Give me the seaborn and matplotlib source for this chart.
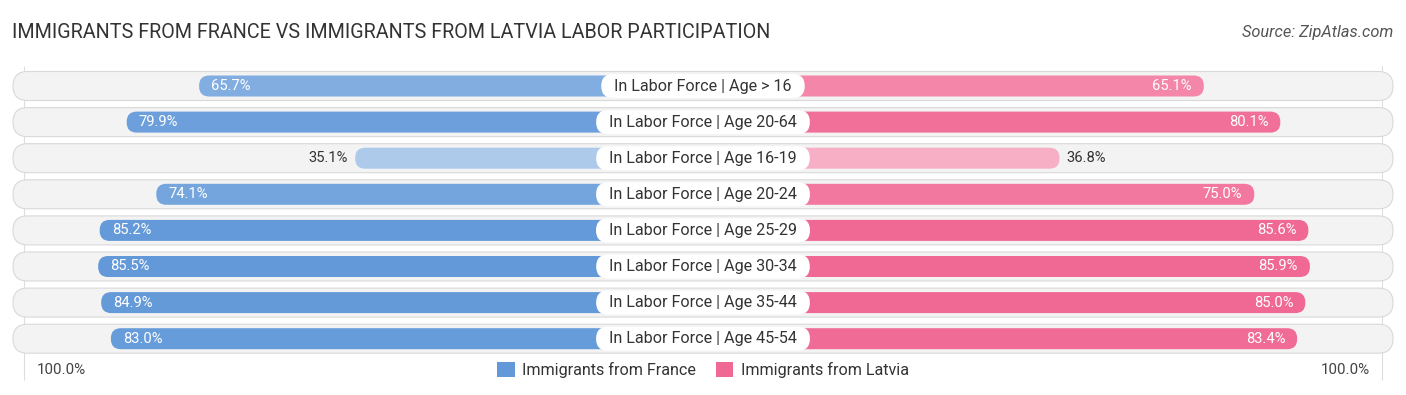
import numpy as np
import pandas as pd
import matplotlib
matplotlib.use("Agg")
import matplotlib.pyplot as plt
import seaborn as sns
from matplotlib.patches import FancyBboxPatch, Patch
from matplotlib.colors import to_rgb


# ------------------------------#
# Data
# ------------------------------#
categories = [
    "In Labor Force | Age > 16",
    "In Labor Force | Age 20-64",
    "In Labor Force | Age 16-19",
    "In Labor Force | Age 20-24",
    "In Labor Force | Age 25-29",
    "In Labor Force | Age 30-34",
    "In Labor Force | Age 35-44",
    "In Labor Force | Age 45-54",
]
france = [65.7, 79.9, 35.1, 74.1, 85.2, 85.5, 84.9, 83.0]
latvia = [65.1, 80.1, 36.8, 75.0, 85.6, 85.9, 85.0, 83.4]
series_names = ["Immigrants from France", "Immigrants from Latvia"]
axis_labels = ["100.0%", "100.0%"]
title = "IMMIGRANTS FROM FRANCE VS IMMIGRANTS FROM LATVIA LABOR PARTICIPATION"
source = "Source: ZipAtlas.com"


# ------------------------------#
# Layout (pixels)
# ------------------------------#
W, H = 1406, 395
PX = 5.1        # pixels per percent
ROW = 36.1      # pixels per row
TOP = 86        # centre of first row
OFFSET = 33.1   # part of each bar hidden under the centre label
BLUE = "#6399d9"
PINK = "#f06894"


def shade(base, v):
    # lighter colour for smaller values
    t = min(max((86 - v) / 100 * 0.95, 0), 1)
    c = np.array(to_rgb(base))
    return tuple(c + (1 - c) * t)


def py(px):
    return (px - TOP) / ROW


sns.set_theme(style="white")
plt.rcParams["font.family"] = ["Roboto", "DejaVu Sans"]

fig = plt.figure(figsize=(W / 100, H / 100), dpi=100)
ax = fig.add_axes([0, 0, 1, 1])

df = pd.DataFrame({
    "label": categories * 2,
    "value": [-(OFFSET + v) for v in france] + [OFFSET + v for v in latvia],
    "series": [series_names[0]] * len(france) + [series_names[1]] * len(latvia),
})

sns.barplot(data=df, x="value", y="label", hue="series", dodge=False,
            orient="h", ax=ax, legend=False, width=21 / ROW,
            palette=[BLUE, PINK])

ax.set_xlim(-W / 2 / PX, W / 2 / PX)
ax.set_ylim(py(H), py(0))
ax.axis("off")

# rounded bars in place of the plain rectangles
m = PX / ROW
r = 10 / PX
for p in list(ax.patches):
    x0, x1 = sorted([p.get_x(), p.get_x() + p.get_width()])
    y0, h = p.get_y(), p.get_height()
    i = int(round(y0 + h / 2))
    if x0 < 0:
        col = shade(BLUE, france[i])
    else:
        col = shade(PINK, latvia[i])
    p.remove()
    ax.add_patch(FancyBboxPatch((x0, y0), x1 - x0, h,
                                boxstyle=f"round,pad=0,rounding_size={r}",
                                mutation_aspect=m, fc=col, ec="none", zorder=2))

# row backgrounds
bh = 29 / ROW
bw = 690 / PX
for i in range(len(categories)):
    ax.add_patch(FancyBboxPatch((-bw, i - bh / 2), 2 * bw, bh,
                                boxstyle=f"round,pad=0,rounding_size={14.5 / PX}",
                                mutation_aspect=m, fc="#f3f3f3", ec="#d9d9d9",
                                lw=0.8, zorder=0))

# faint 100% guide lines
ax.vlines([-(OFFSET + 100), OFFSET + 100], py(66), py(380),
          color="#dddddd", lw=0.8, zorder=-1)

# value labels
for i, (a, b) in enumerate(zip(france, latvia)):
    if a < 50:
        ax.text(-(OFFSET + a) - 7 / PX, i, f"{a:.1f}%", ha="right", va="center",
                fontsize=10.6, color="#333333", zorder=4)
    else:
        ax.text(-(OFFSET + a) + 12 / PX, i, f"{a:.1f}%", ha="left", va="center",
                fontsize=10.6, color="white", zorder=4)
    if b < 50:
        ax.text(OFFSET + b + 7 / PX, i, f"{b:.1f}%", ha="left", va="center",
                fontsize=10.6, color="#333333", zorder=4)
    else:
        ax.text(OFFSET + b - 12 / PX, i, f"{b:.1f}%", ha="right", va="center",
                fontsize=10.6, color="white", zorder=4)

# centre labels with white pills sized from the text
renderer = fig.canvas.get_renderer()
ph = 24 / ROW
for i, cat in enumerate(categories):
    t = ax.text(0, i, cat, ha="center", va="center", fontsize=11.65,
                color="#333333", zorder=6)
    tw = t.get_window_extent(renderer).width
    pw = (tw + 26) / PX
    ax.add_patch(FancyBboxPatch((-pw / 2, i - ph / 2), pw, ph,
                                boxstyle=f"round,pad=0,rounding_size={12 / PX}",
                                mutation_aspect=m, fc="white", ec="none",
                                zorder=5))

# axis end labels
ax.text((37 - W / 2) / PX, py(370), axis_labels[0], ha="left", va="center",
        fontsize=10.9, color="#444444")
ax.text((1370 - W / 2) / PX, py(370), axis_labels[1], ha="right", va="center",
        fontsize=10.9, color="#444444")

# legend
handles = [Patch(fc=BLUE, ec="none"), Patch(fc=PINK, ec="none")]
fig.legend(handles, series_names, loc="center", bbox_to_anchor=(0.5, 1 - 370 / H),
           ncol=2, frameon=False, fontsize=11.6, handlelength=1.1, handleheight=1.1,
           handletextpad=0.45, columnspacing=1.2, labelcolor="#333333")

fig.text(12 / W, 1 - 33 / H, title, ha="left", va="center", fontsize=14.2,
         color="#333333")
fig.text(1393 / W, 1 - 33 / H, source, ha="right", va="center", fontsize=11.8,
         color="#555555", style="italic")

fig.savefig("out.png", dpi=100)
